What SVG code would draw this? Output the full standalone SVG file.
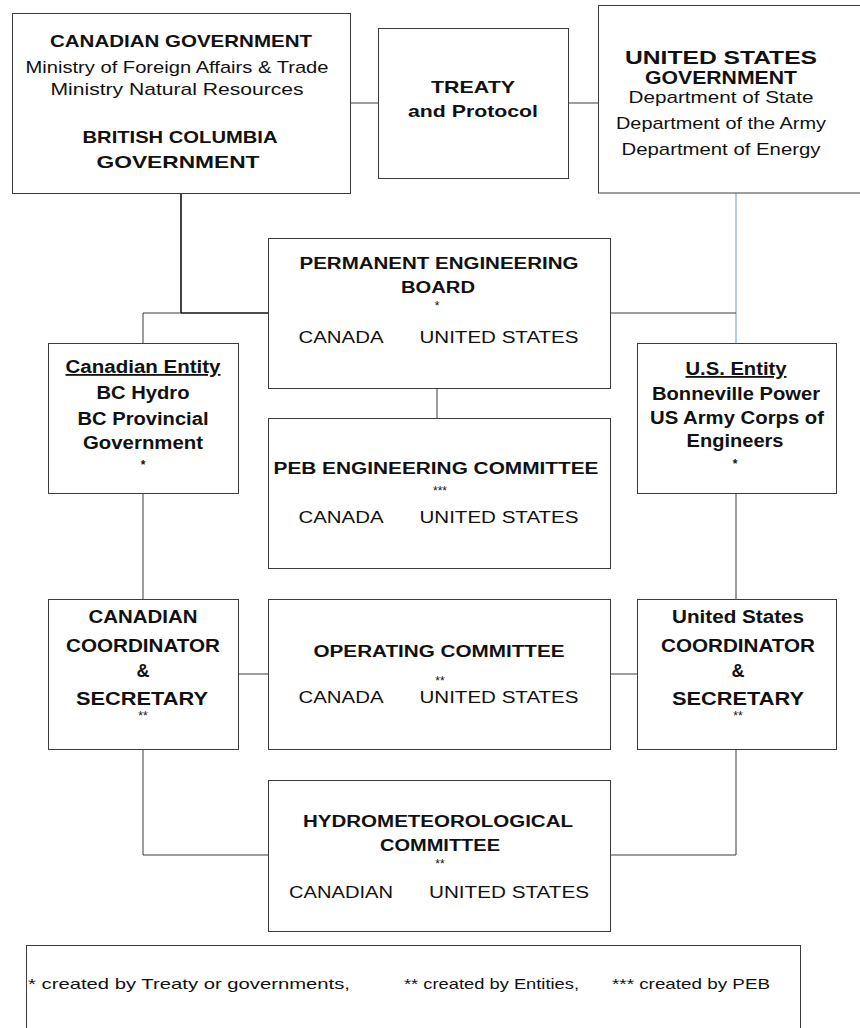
<svg xmlns="http://www.w3.org/2000/svg" width="860" height="1028" viewBox="0 0 860 1028">
<style>
  .box { fill: #ffffff; stroke: #3c3c3c; stroke-width: 1; }
  .con { fill: none; stroke: #3c3c3c; stroke-width: 1; }
  .dark { fill: none; stroke: #111111; stroke-width: 1.6; }
  .blue { fill: none; stroke: #8aa6d6; stroke-width: 1.2; }
  text { font-family: "Liberation Sans", Arial, sans-serif; fill: #111111; text-anchor: middle; }
  .b { font-weight: bold; }
  .s17 { font-size: 17px; }
  .s18 { font-size: 18px; }
  .s16 { font-size: 16px; }
  .s15 { font-size: 15px; }
  .star { font-size: 12px; }
  .u { text-decoration: underline; }
  .leg { text-anchor: start; font-size: 15px; }
</style>
<rect width="860" height="1028" fill="#ffffff"/>
<g id="connectors">
  <path class="con" d="M350,103 H378"/>
  <path class="con" d="M568,103 H598"/>
  <path class="dark" d="M181,193 V313"/>
  <path class="dark" d="M181,313 H268"/>
  <path class="con" d="M143,343 V313 H181"/>
  <path class="blue" d="M736,193 V343"/>
  <path class="con" d="M610,313 H736"/>
  <path class="con" d="M437,388 V418"/>
  <path class="con" d="M143,493 V599"/>
  <path class="con" d="M736,493 V599"/>
  <path class="con" d="M238,674 H268"/>
  <path class="con" d="M610,674 H637"/>
  <path class="con" d="M143,750 V855 H268"/>
  <path class="con" d="M736,750 V855 H610"/>
</g>
<g id="canadian-government">
  <rect class="box" x="12.5" y="13.5" width="338" height="180"/>
  <text class="b s17" x="181" y="47" textLength="262" lengthAdjust="spacingAndGlyphs">CANADIAN GOVERNMENT</text>
  <text class="s17" x="177" y="73" textLength="303" lengthAdjust="spacingAndGlyphs">Ministry of Foreign  Affairs &amp; Trade</text>
  <text class="s17" x="177" y="95" textLength="253" lengthAdjust="spacingAndGlyphs">Ministry Natural Resources</text>
  <text class="b s17" x="180" y="143" textLength="195" lengthAdjust="spacingAndGlyphs">BRITISH COLUMBIA</text>
  <text class="b s17" x="178" y="168" textLength="163" lengthAdjust="spacingAndGlyphs">GOVERNMENT</text>
</g>
<g id="treaty">
  <rect class="box" x="378.5" y="28.5" width="190" height="150"/>
  <text class="b s17" x="473" y="93" textLength="84" lengthAdjust="spacingAndGlyphs">TREATY</text>
  <text class="b s17" x="473" y="117" textLength="130" lengthAdjust="spacingAndGlyphs">and Protocol</text>
</g>
<g id="us-government">
  <rect class="box" x="598.5" y="5.5" width="275" height="187.5"/>
  <text class="b s18" x="721" y="64" textLength="192" lengthAdjust="spacingAndGlyphs">UNITED STATES</text>
  <text class="b s18" x="721" y="84" textLength="152" lengthAdjust="spacingAndGlyphs">GOVERNMENT</text>
  <text class="s17" x="721" y="103" textLength="185" lengthAdjust="spacingAndGlyphs">Department of State</text>
  <text class="s17" x="721" y="129" textLength="210" lengthAdjust="spacingAndGlyphs">Department of the Army</text>
  <text class="s17" x="721" y="155" textLength="199" lengthAdjust="spacingAndGlyphs">Department of Energy</text>
</g>
<g id="permanent-engineering-board">
  <rect class="box" x="268.5" y="238.5" width="342" height="150"/>
  <text class="b s16" x="439" y="269" textLength="279" lengthAdjust="spacingAndGlyphs">PERMANENT ENGINEERING</text>
  <text class="b s16" x="438" y="293" textLength="74" lengthAdjust="spacingAndGlyphs">BOARD</text>
  <text class="star" x="437" y="310">*</text>
  <text class="s16" x="341" y="343" textLength="85" lengthAdjust="spacingAndGlyphs">CANADA</text>
  <text class="s16" x="499" y="343" textLength="159" lengthAdjust="spacingAndGlyphs">UNITED STATES</text>
</g>
<g id="canadian-entity">
  <rect class="box" x="48.5" y="343.5" width="190" height="150"/>
  <text class="b s18 u" x="143" y="373" textLength="155" lengthAdjust="spacingAndGlyphs">Canadian Entity</text>
  <text class="b s18" x="143" y="399" textLength="93" lengthAdjust="spacingAndGlyphs">BC Hydro</text>
  <text class="b s18" x="143" y="425" textLength="131" lengthAdjust="spacingAndGlyphs">BC Provincial</text>
  <text class="b s18" x="143" y="449" textLength="120" lengthAdjust="spacingAndGlyphs">Government</text>
  <text class="star b" x="143" y="469">*</text>
</g>
<g id="us-entity">
  <rect class="box" x="637.5" y="343.5" width="199" height="150"/>
  <text class="b s18 u" x="736" y="375" textLength="101" lengthAdjust="spacingAndGlyphs">U.S. Entity</text>
  <text class="b s18" x="736" y="400" textLength="168" lengthAdjust="spacingAndGlyphs">Bonneville Power</text>
  <text class="b s18" x="737" y="424" textLength="174" lengthAdjust="spacingAndGlyphs">US Army Corps of</text>
  <text class="b s18" x="735" y="447" textLength="97" lengthAdjust="spacingAndGlyphs">Engineers</text>
  <text class="star b" x="735" y="468">*</text>
</g>
<g id="peb-engineering-committee">
  <rect class="box" x="268.5" y="418.5" width="342" height="150"/>
  <text class="b s16" x="436" y="474" textLength="325" lengthAdjust="spacingAndGlyphs">PEB ENGINEERING COMMITTEE</text>
  <text class="star" x="440" y="495">***</text>
  <text class="s16" x="341" y="523" textLength="85" lengthAdjust="spacingAndGlyphs">CANADA</text>
  <text class="s16" x="499" y="523" textLength="159" lengthAdjust="spacingAndGlyphs">UNITED STATES</text>
</g>
<g id="canadian-coordinator">
  <rect class="box" x="48.5" y="599.5" width="190" height="150"/>
  <text class="b s18" x="143" y="623" textLength="109" lengthAdjust="spacingAndGlyphs">CANADIAN</text>
  <text class="b s18" x="143" y="652" textLength="154" lengthAdjust="spacingAndGlyphs">COORDINATOR</text>
  <text class="b s18" x="143" y="677">&amp;</text>
  <text class="b s18" x="142" y="705" textLength="132" lengthAdjust="spacingAndGlyphs">SECRETARY</text>
  <text class="star" x="143" y="720">**</text>
</g>
<g id="operating-committee">
  <rect class="box" x="268.5" y="599.5" width="342" height="150"/>
  <text class="b s16" x="439" y="657" textLength="251" lengthAdjust="spacingAndGlyphs">OPERATING COMMITTEE</text>
  <text class="star" x="440" y="685">**</text>
  <text class="s16" x="341" y="703" textLength="85" lengthAdjust="spacingAndGlyphs">CANADA</text>
  <text class="s16" x="499" y="703" textLength="159" lengthAdjust="spacingAndGlyphs">UNITED STATES</text>
</g>
<g id="us-coordinator">
  <rect class="box" x="637.5" y="599.5" width="199" height="150"/>
  <text class="b s18" x="738" y="623" textLength="132" lengthAdjust="spacingAndGlyphs">United States</text>
  <text class="b s18" x="738" y="652" textLength="154" lengthAdjust="spacingAndGlyphs">COORDINATOR</text>
  <text class="b s18" x="738" y="677">&amp;</text>
  <text class="b s18" x="738" y="705" textLength="132" lengthAdjust="spacingAndGlyphs">SECRETARY</text>
  <text class="star" x="738" y="720">**</text>
</g>
<g id="hydrometeorological-committee">
  <rect class="box" x="268.5" y="780.5" width="342" height="151"/>
  <text class="b s16" x="438" y="827" textLength="270" lengthAdjust="spacingAndGlyphs">HYDROMETEOROLOGICAL</text>
  <text class="b s16" x="440" y="851" textLength="120" lengthAdjust="spacingAndGlyphs">COMMITTEE</text>
  <text class="star" x="440" y="868">**</text>
  <text class="s16" x="341" y="898" textLength="104" lengthAdjust="spacingAndGlyphs">CANADIAN</text>
  <text class="s16" x="509" y="898" textLength="160" lengthAdjust="spacingAndGlyphs">UNITED STATES</text>
</g>
<g id="legend">
  <rect class="box" x="26.5" y="945.5" width="774" height="100"/>
  <text class="leg" x="28" y="989" textLength="322" lengthAdjust="spacingAndGlyphs">* created by Treaty or governments,</text>
  <text class="leg" x="404" y="989" textLength="175" lengthAdjust="spacingAndGlyphs">** created by Entities,</text>
  <text class="leg" x="612" y="989" textLength="158" lengthAdjust="spacingAndGlyphs">*** created by PEB</text>
</g>
</svg>
